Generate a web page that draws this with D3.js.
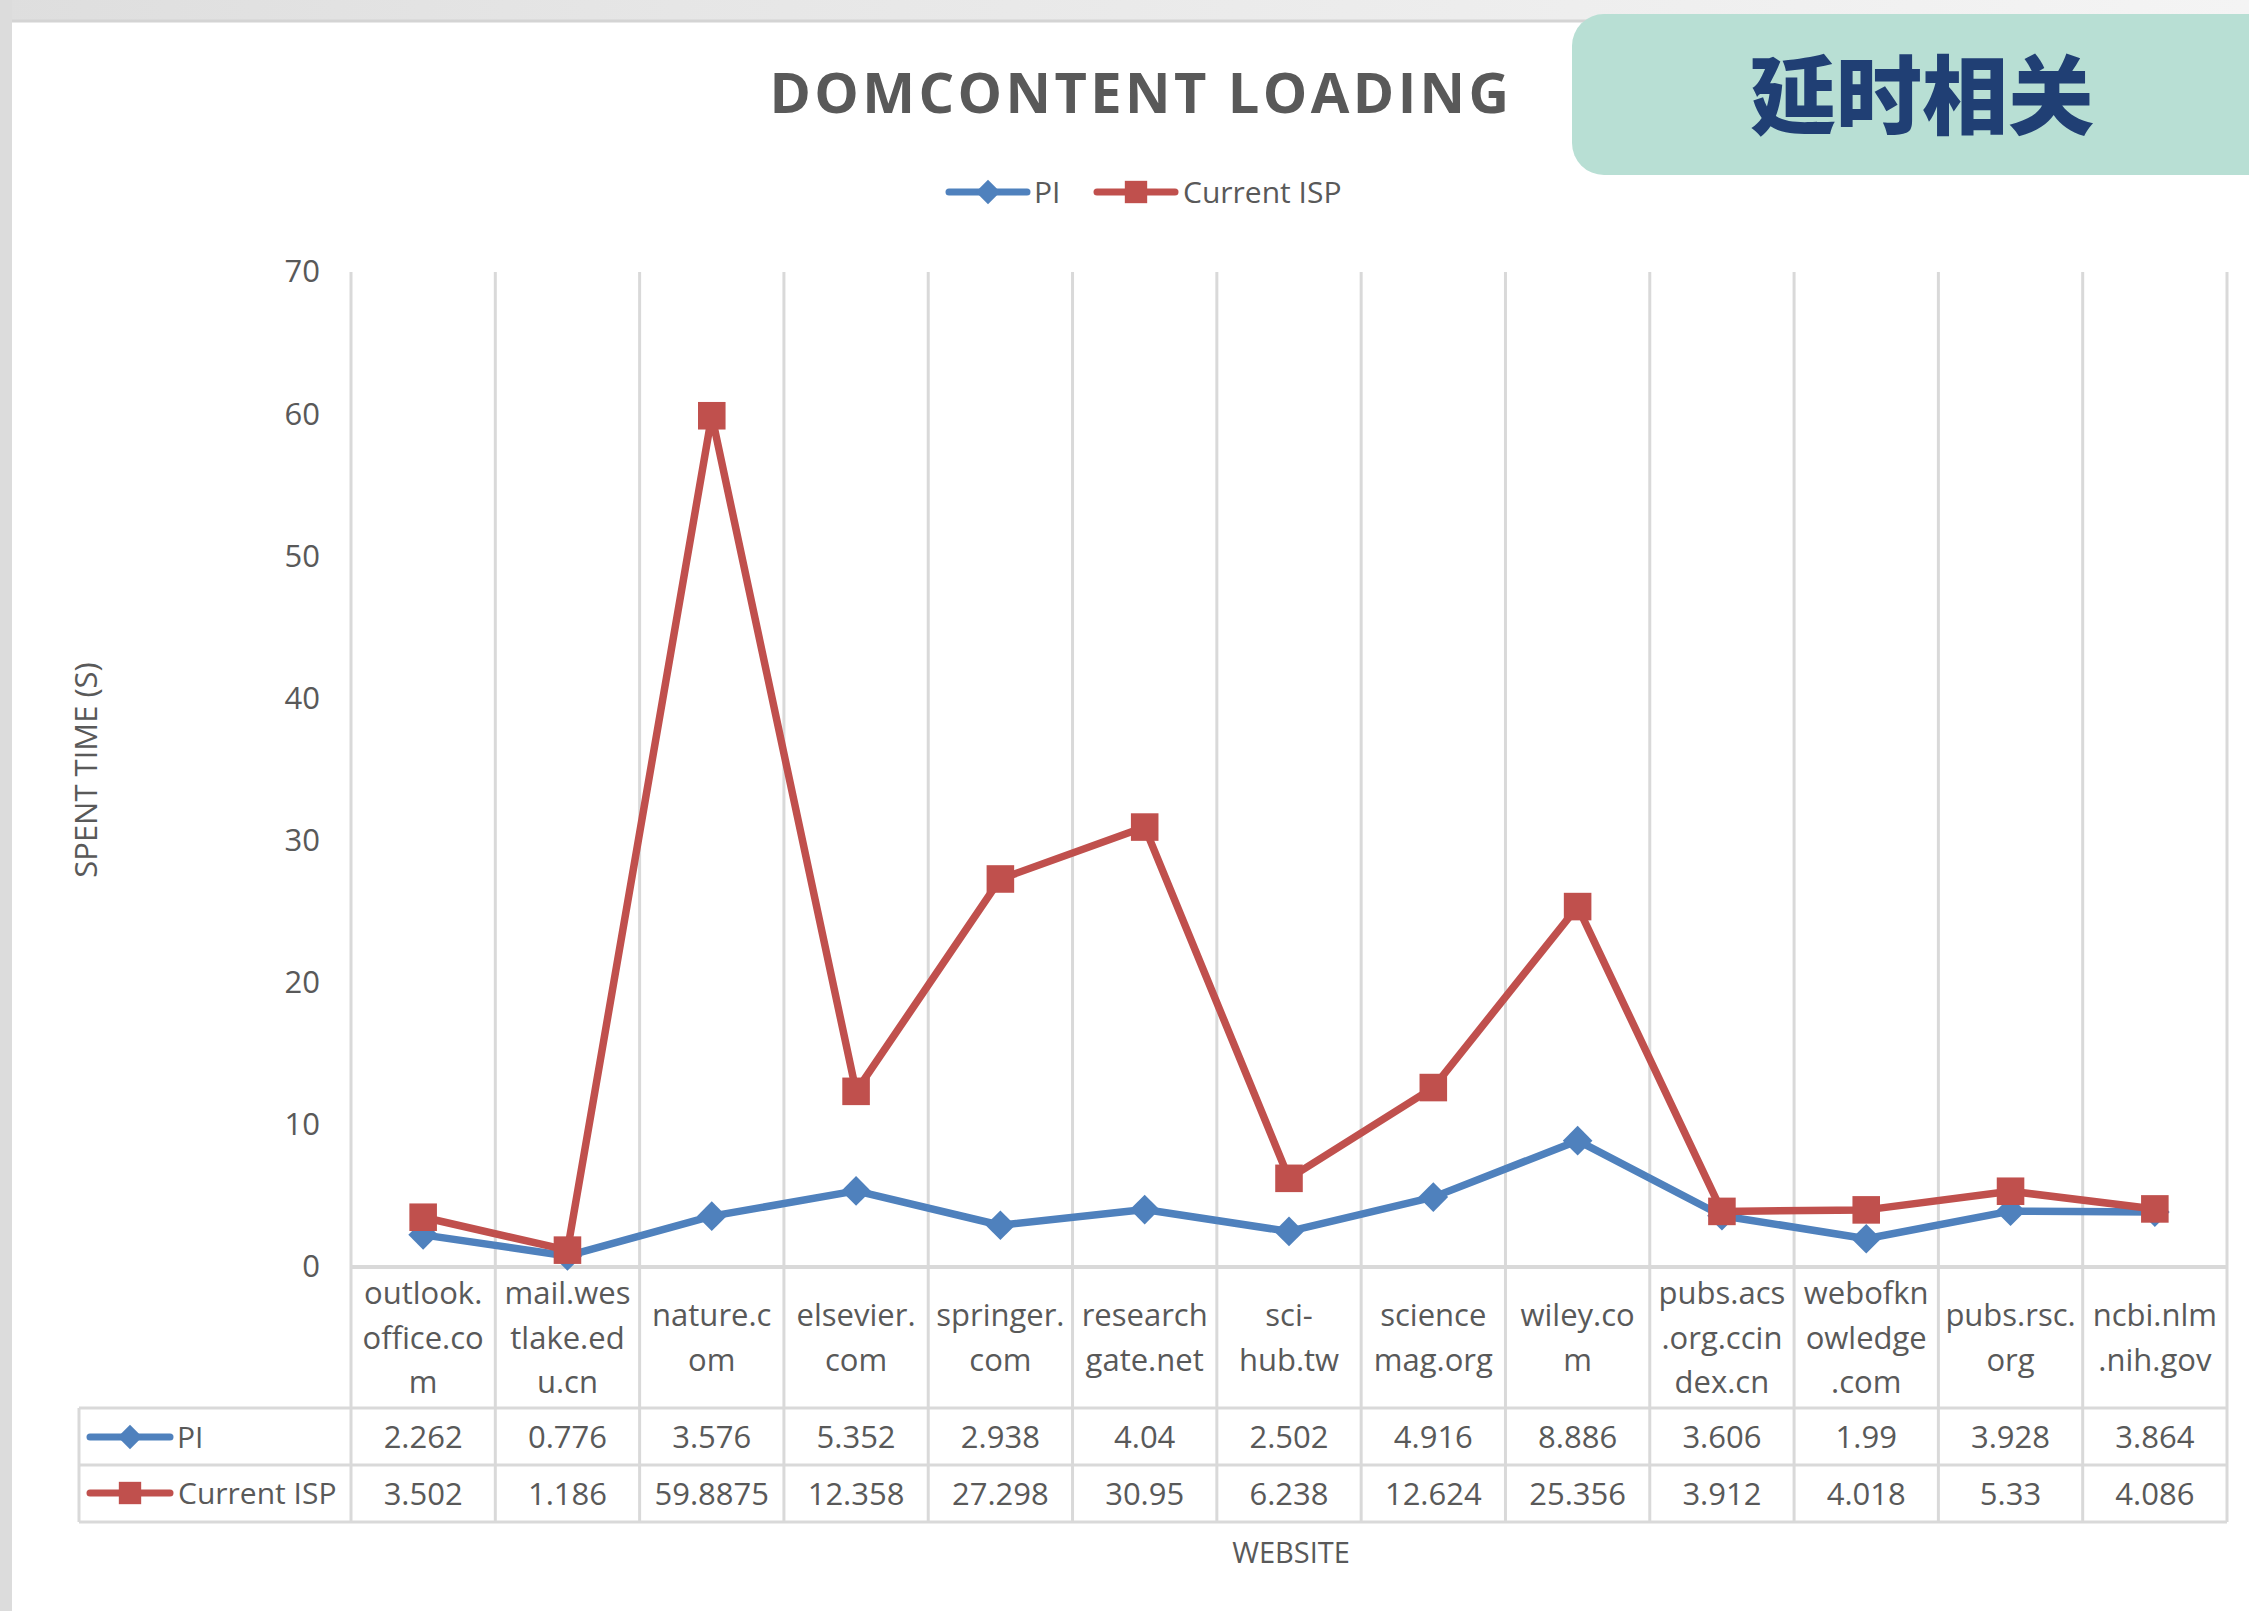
<!DOCTYPE html>
<html>
<head>
<meta charset="utf-8">
<script src="https://cdn.jsdelivr.net/npm/d3@7"></script>
<style>
html,body{margin:0;padding:0;background:#fff;}
svg{display:block;}
text{font-family:"Open Sans","Noto Sans",sans-serif;}
</style>
</head>
<body>
<script>
const categories = ["outlook.office.com","mail.westlake.edu.cn","nature.com","elsevier.com","springer.com","researchgate.net","sci-hub.tw","sciencemag.org","wiley.com","pubs.acs.org.ccindex.cn","webofknowledge.com","pubs.rsc.org","ncbi.nlm.nih.gov"];
const categoryLines = [["outlook.","office.co","m"],["mail.wes","tlake.ed","u.cn"],["nature.c","om"],["elsevier.","com"],["springer.","com"],["research","gate.net"],["sci-","hub.tw"],["science","mag.org"],["wiley.co","m"],["pubs.acs",".org.ccin","dex.cn"],["webofkn","owledge",".com"],["pubs.rsc.","org"],["ncbi.nlm",".nih.gov"]];
const piValues = [2.262,0.776,3.576,5.352,2.938,4.04,2.502,4.916,8.886,3.606,1.99,3.928,3.864];
const piLabels = ["2.262","0.776","3.576","5.352","2.938","4.04","2.502","4.916","8.886","3.606","1.99","3.928","3.864"];
const ispValues = [3.502,1.186,59.8875,12.358,27.298,30.95,6.238,12.624,25.356,3.912,4.018,5.33,4.086];
const ispLabels = ["3.502","1.186","59.8875","12.358","27.298","30.95","6.238","12.624","25.356","3.912","4.018","5.33","4.086"];
const yTicks = [0,10,20,30,40,50,60,70];
const seriesNames = ["PI","Current ISP"];

const W = 2249, H = 1611;
const svg = d3.select("body").append("svg").attr("width", W).attr("height", H);

// background frame
const defs = svg.append("defs");
const grad = defs.append("linearGradient").attr("id","topg").attr("x1","0").attr("x2","1");
grad.append("stop").attr("offset","0").attr("stop-color","#dedede");
grad.append("stop").attr("offset","0.3").attr("stop-color","#e6e6e6");
grad.append("stop").attr("offset","1").attr("stop-color","#f4f4f4");
svg.append("rect").attr("x",0).attr("y",0).attr("width",W).attr("height",H).attr("fill","url(#topg)");
svg.append("rect").attr("x",0).attr("y",0).attr("width",12).attr("height",H).attr("fill","#dcdcdc");
svg.append("rect").attr("x",12).attr("y",20).attr("width",W-12).attr("height",H-20).attr("fill","#ffffff");
svg.append("line").attr("x1",12).attr("x2",W).attr("y1",21).attr("y2",21).attr("stroke","#d4d4d4").attr("stroke-width",3);

// green badge
svg.append("rect").attr("x",1572).attr("y",14).attr("width",760).attr("height",161).attr("rx",32).attr("fill","#b8dfd4");
svg.append("text").attr("x",1922).attr("y",128).attr("text-anchor","middle")
  .style("font-family","'Noto Sans CJK SC','Noto Sans CJK JP',sans-serif").style("font-weight",900)
  .style("font-size","86px").attr("fill","#203f74").text("延时相关");

// title
svg.append("text").attr("x",1141).attr("y",113).attr("text-anchor","middle")
  .style("font-weight",700).style("font-size","56px").style("letter-spacing","3.4px")
  .attr("fill","#595959").text("DOMCONTENT LOADING");

// scales
const plotLeft = 351, plotRight = 2227, plotTop = 272, plotBottom = 1267;
const x = d3.scaleBand().domain(categories).range([plotLeft, plotRight]).padding(0);
const y = d3.scaleLinear().domain([0, 70]).range([plotBottom, plotTop]);
const grid = "#d9d9d9";
const textCol = "#595959";

// vertical gridlines (category boundaries), through table
const bounds = categories.map(c => x(c)).concat([plotRight]);
svg.append("g").selectAll("line").data(bounds).join("line")
  .attr("x1", d => d).attr("x2", d => d).attr("y1", plotTop).attr("y2", 1522)
  .attr("stroke", grid).attr("stroke-width", 3);

// table horizontal lines
svg.append("line").attr("x1", plotLeft).attr("x2", plotRight).attr("y1", plotBottom).attr("y2", plotBottom).attr("stroke", grid).attr("stroke-width", 4);
[1408, 1465, 1522].forEach(v => {
  svg.append("line").attr("x1", 79).attr("x2", plotRight).attr("y1", v).attr("y2", v).attr("stroke", grid).attr("stroke-width", 3);
});
svg.append("line").attr("x1", 79).attr("x2", 79).attr("y1", 1408).attr("y2", 1522).attr("stroke", grid).attr("stroke-width", 3);

// y axis
const yAxis = svg.append("g").attr("transform", `translate(${plotLeft},0)`)
  .call(d3.axisLeft(y).tickValues(yTicks).tickSize(0).tickPadding(31).tickFormat(d3.format("d")));
yAxis.select(".domain").remove();
yAxis.selectAll("text").style("font-size","31px").style("font-family","'Open Sans',sans-serif").attr("fill", textCol);

// y axis title
svg.append("text").attr("transform","translate(97,770) rotate(-90)").attr("text-anchor","middle")
  .style("font-size","31px").attr("fill", textCol).text("SPENT TIME (S)");

// x title
svg.append("text").attr("x", 1291).attr("y", 1563).attr("text-anchor","middle")
  .style("font-size","29px").attr("fill", textCol).text("WEBSITE");

// category labels
const lh = 44.5;
const catG = svg.append("g");
categories.forEach((c, i) => {
  const lines = categoryLines[i];
  const cx = x(c) + x.bandwidth() / 2;
  const cy = (plotBottom + 1408) / 2;
  const t = catG.append("text").attr("text-anchor","middle").style("font-size","31px").attr("fill", textCol);
  lines.forEach((ln, j) => {
    t.append("tspan").attr("x", cx).attr("y", cy + (j - (lines.length - 1) / 2) * lh + 11).text(ln);
  });
});

// table values
const tbl = svg.append("g");
tbl.selectAll("text.pi").data(categories).join("text").attr("class","pi")
  .attr("x", d => x(d) + x.bandwidth() / 2).attr("y", 1448).attr("text-anchor","middle")
  .style("font-size","31px").attr("fill", textCol).text((d, i) => piLabels[i]);
tbl.selectAll("text.isp").data(categories).join("text").attr("class","isp")
  .attr("x", d => x(d) + x.bandwidth() / 2).attr("y", 1505).attr("text-anchor","middle")
  .style("font-size","31px").attr("fill", textCol).text((d, i) => ispLabels[i]);

const blue = "#4f81bd", red = "#c0504d";
const diamond = d3.symbol().type(d3.symbolDiamond2).size(560);
const square = d3.symbol().type(d3.symbolSquare).size(760);
const diamondSm = d3.symbol().type(d3.symbolDiamond2).size(380);
const squareSm = d3.symbol().type(d3.symbolSquare).size(500);

// legend keys
function key(g, x1, x2, yy, col, sym, label, tx) {
  g.append("line").attr("x1", x1).attr("x2", x2).attr("y1", yy).attr("y2", yy)
    .attr("stroke", col).attr("stroke-width", 7).attr("stroke-linecap","round");
  g.append("path").attr("d", sym()).attr("transform", `translate(${(x1 + x2) / 2},${yy})`).attr("fill", col);
  g.append("text").attr("x", tx).attr("y", yy + 11).style("font-size","30px").attr("fill", textCol).text(label);
}
key(tbl, 90, 170, 1437, blue, diamondSm, seriesNames[0], 177);
key(tbl, 90, 170, 1493, red, squareSm, seriesNames[1], 178);

const leg = svg.append("g");
key(leg, 949, 1027, 192, blue, diamondSm, seriesNames[0], 1034);
key(leg, 1097, 1175, 192, red, squareSm, seriesNames[1], 1183);

// lines and markers
const line = d3.line().x((d, i) => x(categories[i]) + x.bandwidth() / 2).y(d => y(d));
svg.append("path").datum(piValues).attr("d", line).attr("fill","none").attr("stroke", blue).attr("stroke-width", 7.5).attr("stroke-linejoin","round");
svg.append("g").selectAll("path").data(piValues).join("path").attr("d", diamond)
  .attr("transform", (d, i) => `translate(${x(categories[i]) + x.bandwidth() / 2},${y(d)})`).attr("fill", blue);
svg.append("path").datum(ispValues).attr("d", line).attr("fill","none").attr("stroke", red).attr("stroke-width", 7.5).attr("stroke-linejoin","round");
svg.append("g").selectAll("path").data(ispValues).join("path").attr("d", square)
  .attr("transform", (d, i) => `translate(${x(categories[i]) + x.bandwidth() / 2},${y(d)})`).attr("fill", red);
</script>
</body>
</html>
